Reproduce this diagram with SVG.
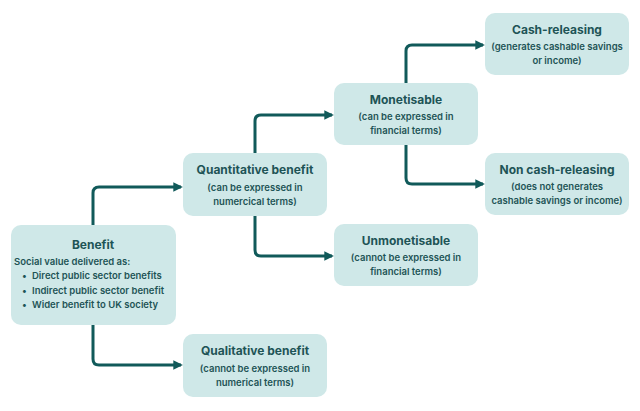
<svg xmlns="http://www.w3.org/2000/svg" width="640" height="411" viewBox="0 0 640 411">
<style>
.b{fill:#cfe8e8;}
text{font-family:Inter,"Noto Sans",sans-serif;fill:#1e5456;text-anchor:middle;}
.t{font-size:12px;font-weight:700;}
.s{font-size:9.5px;font-weight:600;}
.l{text-anchor:start;}
.c{fill:none;stroke:#115a5a;stroke-width:3;stroke-linejoin:round;}
</style>
<defs><marker id="a" viewBox="0 0 10 10" refX="8" refY="5" markerWidth="3.2" markerHeight="3.5" orient="auto" markerUnits="strokeWidth"><path d="M0,0L10,5L0,10z" fill="#115a5a"/></marker></defs>
<g id="connectors">
<path class="c" marker-end="url(#a)" d="M93,225V193Q93,187 99,187H181"/>
<path class="c" marker-end="url(#a)" d="M93,325V359Q93,365 99,365H181"/>
<path class="c" marker-end="url(#a)" d="M255,153V121Q255,115 261,115H332"/>
<path class="c" marker-end="url(#a)" d="M255,216V250Q255,256 261,256H332"/>
<path class="c" marker-end="url(#a)" d="M406,83V51Q406,45 412,45H483"/>
<path class="c" marker-end="url(#a)" d="M406,145V178Q406,184 412,184H483"/>
</g>
<g id="benefit"><rect class="b" x="11" y="225" width="165" height="100" rx="10"/>
<text class="t" x="93" y="249">Benefit</text>
<text class="s l" x="14" y="265">Social value delivered as:</text>
<text class="s l" x="22" y="279">•</text><text class="s l" x="32" y="279">Direct public sector benefits</text>
<text class="s l" x="22" y="294">•</text><text class="s l" x="32" y="294">Indirect public sector benefit</text>
<text class="s l" x="22" y="308">•</text><text class="s l" x="32" y="308">Wider benefit to UK society</text></g>
<g id="quantitative"><rect class="b" x="183" y="153" width="144" height="63" rx="10"/>
<text class="t" x="255" y="174">Quantitative benefit</text>
<text class="s" x="255" y="191">(can be expressed in</text>
<text class="s" x="255" y="205">numercical terms)</text></g>
<g id="qualitative"><rect class="b" x="183" y="334" width="144" height="63" rx="10"/>
<text class="t" x="255" y="355">Qualitative benefit</text>
<text class="s" x="255" y="372">(cannot be expressed in</text>
<text class="s" x="255" y="386">numerical terms)</text></g>
<g id="monetisable"><rect class="b" x="334" y="83" width="144" height="62" rx="10"/>
<text class="t" x="406" y="104">Monetisable</text>
<text class="s" x="406" y="120">(can be expressed in</text>
<text class="s" x="406" y="134">financial terms)</text></g>
<g id="unmonetisable"><rect class="b" x="334" y="224" width="144" height="62" rx="10"/>
<text class="t" x="406" y="245">Unmonetisable</text>
<text class="s" x="406" y="261">(cannot be expressed in</text>
<text class="s" x="406" y="275">financial terms)</text></g>
<g id="cash"><rect class="b" x="485" y="13" width="144" height="62" rx="10"/>
<text class="t" x="557" y="34">Cash-releasing</text>
<text class="s" x="557" y="50">(generates cashable savings</text>
<text class="s" x="557" y="64">or income)</text></g>
<g id="noncash"><rect class="b" x="485" y="153" width="144" height="62" rx="10"/>
<text class="t" x="557" y="174">Non cash-releasing</text>
<text class="s" x="557" y="190">(does not generates</text>
<text class="s" x="557" y="204">cashable savings or income)</text></g>
</svg>
